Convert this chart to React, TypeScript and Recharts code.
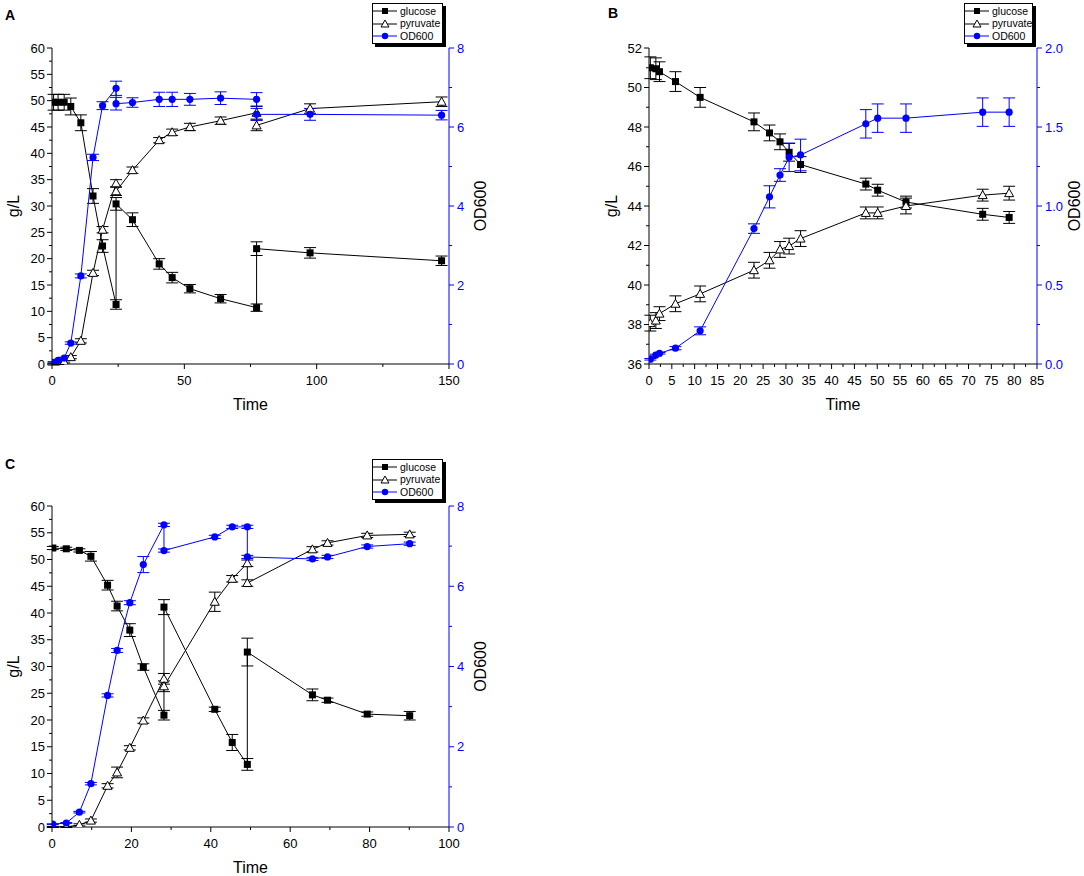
import React from 'react';
import { ComposedChart, Line, XAxis, YAxis, ErrorBar, Legend } from 'recharts';

const FONT = '"Liberation Sans", Arial, sans-serif';
const BLUE = '#0000ff';

// ---------- Panel A ----------
const A_TIME = [0.6, 2.3, 4.6, 7.1, 10.9, 15.5, 19.1, 24.2, 24.2, 30.4, 40.5, 45.4, 52.1, 63.7, 77.3, 77.3, 97.5, 147.2];
const A_GLUCOSE = [49.7, 49.7, 49.7, 48.9, 45.8, 31.9, 22.4, 11.3, 30.4, 27.4, 19.0, 16.4, 14.3, 12.4, 10.7, 21.9, 21.1, 19.6];
const A_GLUCOSE_ERR = [1.5, 1.5, 1.5, 1.6, 1.5, 1.4, 1.2, 0.9, 1.2, 1.3, 1.0, 1.0, 0.8, 0.8, 0.7, 1.3, 1.0, 0.9];
const A_PYRUVATE = [0, 0.1, 0.4, 1.3, 4.4, 17.3, 25.5, 34.3, 32.8, 36.8, 42.5, 44.0, 45.0, 46.2, 47.7, 45.3, 48.5, 49.8];
const A_PYRUVATE_ERR = [0.2, 0.2, 0.2, 0.3, 0.4, 0.5, 0.6, 0.7, 0.8, 0.6, 0.5, 0.6, 0.7, 0.7, 1.2, 1.0, 0.9, 0.9];
const A_OD = [0.04, 0.09, 0.15, 0.53, 2.23, 5.23, 6.54, 6.98, 6.59, 6.62, 6.7, 6.7, 6.7, 6.73, 6.7, 6.32, 6.32, 6.3];
const A_OD_ERR = [0.02, 0.02, 0.02, 0.03, 0.05, 0.08, 0.1, 0.18, 0.16, 0.12, 0.18, 0.18, 0.15, 0.16, 0.17, 0.15, 0.15, 0.12];
const A_X_TICKS = [0, 50, 100, 150];
const A_Y_TICKS = [0, 5, 10, 15, 20, 25, 30, 35, 40, 45, 50, 55, 60];
const A_OD_TICKS = [0, 2, 4, 6, 8];

// ---------- Panel B ----------
const B_TIME = [0.3, 1.5, 2.3, 5.8, 11.2, 23.0, 26.4, 28.7, 30.7, 33.2, 47.5, 50.1, 56.3, 73.1, 78.9];
const B_GLUCOSE = [51.0, 50.95, 50.8, 50.3, 49.5, 48.26, 47.7, 47.25, 46.72, 46.1, 45.11, 44.8, 44.2, 43.58, 43.42];
const B_GLUCOSE_ERR = [0.55, 0.55, 0.5, 0.5, 0.5, 0.45, 0.4, 0.4, 0.45, 0.4, 0.3, 0.3, 0.3, 0.3, 0.3];
const B_PYRUVATE = [38.07, 38.2, 38.55, 39.05, 39.55, 40.75, 41.25, 41.8, 41.97, 42.35, 43.65, 43.65, 44.0, 44.55, 44.65];
const B_PYRUVATE_ERR = [0.4, 0.4, 0.35, 0.4, 0.4, 0.4, 0.4, 0.4, 0.4, 0.4, 0.3, 0.3, 0.4, 0.3, 0.35];
const B_OD = [0.03, 0.057, 0.068, 0.1, 0.21, 0.857, 1.058, 1.196, 1.308, 1.323, 1.52, 1.556, 1.556, 1.594, 1.594];
const B_OD_ERR = [0.005, 0.005, 0.005, 0.01, 0.025, 0.03, 0.07, 0.04, 0.09, 0.1, 0.09, 0.09, 0.09, 0.09, 0.09];
const B_X_TICKS = [0, 5, 10, 15, 20, 25, 30, 35, 40, 45, 50, 55, 60, 65, 70, 75, 80, 85];
const B_Y_TICKS = [36, 38, 40, 42, 44, 46, 48, 50, 52];
const B_OD_TICKS = [0, 0.5, 1.0, 1.5, 2.0];

// ---------- Panel C ----------
const C_TIME = [0.2, 3.6, 6.9, 9.8, 14.0, 16.4, 19.6, 23.0, 28.2, 28.2, 41.0, 45.4, 49.2, 49.2, 65.6, 69.4, 79.4, 90.1];
const C_GLUCOSE = [52.15, 52.0, 51.7, 50.6, 45.2, 41.3, 36.8, 29.9, 20.9, 41.1, 22.0, 15.8, 11.7, 32.7, 24.7, 23.7, 21.1, 20.8];
const C_GLUCOSE_ERR = [0.3, 0.3, 0.3, 0.9, 0.9, 0.9, 1.2, 0.6, 0.9, 1.4, 0.4, 1.5, 1.1, 2.6, 1.1, 0.4, 0.4, 0.8];
const C_PYRUVATE = [0, 0, 0.4, 1.2, 7.7, 10.2, 14.8, 19.9, 27.7, 26.3, 42.1, 46.4, 49.3, 45.6, 51.9, 53.1, 54.5, 54.7];
const C_PYRUVATE_ERR = [0.1, 0.1, 0.2, 0.3, 0.4, 1.0, 0.4, 0.5, 1.0, 1.0, 1.8, 0.6, 0.6, 0.6, 0.5, 0.4, 0.4, 0.4];
const C_OD = [0.07, 0.1, 0.37, 1.08, 3.28, 4.4, 5.59, 6.54, 7.53, 6.89, 7.23, 7.48, 7.48, 6.73, 6.68, 6.73, 6.99, 7.06];
const C_OD_ERR = [0.01, 0.01, 0.02, 0.03, 0.04, 0.05, 0.05, 0.2, 0.04, 0.04, 0.04, 0.04, 0.04, 0.04, 0.04, 0.04, 0.04, 0.04];
const C_X_TICKS = [0, 20, 40, 60, 80, 100];
const C_Y_TICKS = [0, 5, 10, 15, 20, 25, 30, 35, 40, 45, 50, 55, 60];
const C_OD_TICKS = [0, 2, 4, 6, 8];

const LEGEND_NAMES = ['glucose', 'pyruvate', 'OD600'];

// ---------- helpers ----------
const pts = (t: number[], y: number[], e: number[]) => t.map((tt, i) => ({ t: tt, y: y[i], e: e[i] }));

// major ticks plus midpoints (minor ticks)
const withMinor = (ticks: number[]) => {
  const out: number[] = [];
  ticks.forEach((v, i) => {
    out.push(v);
    if (i < ticks.length - 1) out.push((v + ticks[i + 1]) / 2);
  });
  return out;
};

type Side = 'left' | 'right' | 'bottom' | 'top';

const makeTick = (side: Side, majors: number[], color: string, fmt: (v: number) => string, showLabel: boolean) =>
  (props: any) => {
    const { x, y, payload } = props;
    const v = payload.value;
    const major = majors.some((m) => Math.abs(m - v) < 1e-9);
    const len = major ? 5 : 3;
    let line: any = null;
    let label: any = null;
    const tstyle = { fontFamily: FONT, fontSize: 13 };
    if (side === 'left') {
      line = <line x1={x - len} x2={x} y1={y} y2={y} stroke={color} strokeWidth={1} />;
      if (major && showLabel)
        label = <text x={x - 7} y={y} dy="0.36em" textAnchor="end" fill={color} style={tstyle}>{fmt(v)}</text>;
    } else if (side === 'right') {
      line = <line x1={x} x2={x + len} y1={y} y2={y} stroke={color} strokeWidth={1} />;
      if (major && showLabel)
        label = <text x={x + 8} y={y} dy="0.36em" textAnchor="start" fill={color} style={tstyle}>{fmt(v)}</text>;
    } else if (side === 'bottom') {
      line = <line x1={x} x2={x} y1={y} y2={y + len} stroke={color} strokeWidth={1} />;
      if (major && showLabel)
        label = <text x={x} y={y + 16} dy="0.36em" textAnchor="middle" fill={color} style={tstyle}>{fmt(v)}</text>;
    } else {
      line = <line x1={x} x2={x} y1={y} y2={y + len} stroke={color} strokeWidth={1} />;
    }
    return (
      <g>
        {line}
        {label}
      </g>
    );
  };

const vTitle = (text: string, dx: number) => (props: any) => {
  const vb = props.viewBox || { x: 0, y: 0, width: 0, height: 0 };
  const cx = vb.x + dx;
  const cy = vb.y + vb.height / 2;
  return (
    <text x={cx} y={cy} dy="0.36em" transform={`rotate(-90 ${cx} ${cy})`} textAnchor="middle" fill="#000" style={{ fontFamily: FONT, fontSize: 16 }}>
      {text}
    </text>
  );
};

const hTitle = (text: string, dy: number) => (props: any) => {
  const vb = props.viewBox || { x: 0, y: 0, width: 0, height: 0 };
  const cx = vb.x + vb.width / 2;
  const cy = vb.y + dy;
  return (
    <text x={cx} y={cy} dy="0.36em" textAnchor="middle" fill="#000" style={{ fontFamily: FONT, fontSize: 16 }}>
      {text}
    </text>
  );
};

const squareDot = (p: any) =>
  p.cx == null ? <g key={`s${p.index}`} /> : <rect key={`s${p.index}`} x={p.cx - 3.5} y={p.cy - 3.5} width={7} height={7} fill="#000" />;
const triDot = (p: any) =>
  p.cx == null ? <g key={`t${p.index}`} /> : (
    <path key={`t${p.index}`} d={`M${p.cx},${p.cy - 4.5} L${p.cx + 4.5},${p.cy + 3.5} L${p.cx - 4.5},${p.cy + 3.5} Z`} fill="#fff" stroke="#000" strokeWidth={1} />
  );
const circDot = (p: any) =>
  p.cx == null ? <g key={`c${p.index}`} /> : <circle key={`c${p.index}`} cx={p.cx} cy={p.cy} r={3.6} fill={BLUE} />;

const LegendBox = ({ width }: { width: number }) => (
  <div
    style={{
      width,
      boxSizing: 'border-box',
      border: '1px solid #000',
      boxShadow: '3px 3px 0 #000',
      background: '#fff',
      fontFamily: FONT,
      fontSize: 10.5,
      padding: '1px 0',
    }}
  >
    {LEGEND_NAMES.map((n, i) => (
      <div key={n} style={{ display: 'flex', alignItems: 'center', height: 12.4, lineHeight: '12.4px' }}>
        <svg width={24} height={12} style={{ flex: 'none', display: 'block' }}>
          <line x1={0} x2={24} y1={6} y2={6} stroke={i === 2 ? BLUE : '#000'} strokeWidth={1} />
          {i === 0 && <rect x={9} y={3} width={6} height={6} fill="#000" />}
          {i === 1 && <path d="M12,2 L16,9 L8,9 Z" fill="#fff" stroke="#000" strokeWidth={1} />}
          {i === 2 && <circle cx={12} cy={6} r={3.2} fill={BLUE} />}
        </svg>
        <span style={{ marginLeft: 3, color: '#000', whiteSpace: 'nowrap' }}>{n}</span>
      </div>
    ))}
  </div>
);

type PanelProps = {
  w: number;
  h: number;
  left: number;
  right: number;
  top: number;
  bottom: number;
  xTicks: number[];
  yTicks: number[];
  odTicks: number[];
  odFmt: (v: number) => string;
  glucose: any[];
  pyruvate: any[];
  od: any[];
  legendLeft: number;
  legendTop: number;
  legendWidth: number;
  leftTitleDx: number;
  rightTitleDx: number;
};

const intFmt = (v: number) => String(v);

function Panel(p: PanelProps) {
  const xDomain = [p.xTicks[0], p.xTicks[p.xTicks.length - 1]];
  const yDomain = [p.yTicks[0], p.yTicks[p.yTicks.length - 1]];
  const odDomain = [p.odTicks[0], p.odTicks[p.odTicks.length - 1]];
  const xAll = withMinor(p.xTicks);
  return (
    <ComposedChart width={p.w} height={p.h} margin={{ top: p.top, left: 0, right: 0, bottom: 0 }}>
      <XAxis
        xAxisId="x"
        type="number"
        dataKey="t"
        domain={xDomain}
        ticks={xAll}
        interval={0}
        allowDataOverflow
        height={p.bottom}
        tickSize={0}
        tickMargin={0}
        tickLine={false}
        axisLine={{ stroke: '#000', strokeWidth: 1 }}
        tick={makeTick('bottom', p.xTicks, '#000', intFmt, true)}
        label={hTitle('Time', 40)}
      />
      <XAxis
        xAxisId="top"
        orientation="top"
        type="number"
        dataKey="t"
        domain={xDomain}
        ticks={xAll}
        interval={0}
        allowDataOverflow
        height={0}
        tickSize={0}
        tickMargin={0}
        tickLine={false}
        axisLine={{ stroke: BLUE, strokeWidth: 1 }}
        tick={makeTick('top', p.xTicks, BLUE, intFmt, false)}
      />
      <YAxis
        yAxisId="left"
        type="number"
        domain={yDomain}
        ticks={withMinor(p.yTicks)}
        interval={0}
        allowDataOverflow
        width={p.left}
        tickSize={0}
        tickMargin={0}
        tickLine={false}
        axisLine={{ stroke: '#000', strokeWidth: 1 }}
        tick={makeTick('left', p.yTicks, '#000', intFmt, true)}
        label={vTitle('g/L', p.leftTitleDx)}
      />
      <YAxis
        yAxisId="right"
        orientation="right"
        type="number"
        domain={odDomain}
        ticks={withMinor(p.odTicks)}
        interval={0}
        allowDataOverflow
        width={p.right}
        tickSize={0}
        tickMargin={0}
        tickLine={false}
        axisLine={{ stroke: BLUE, strokeWidth: 1 }}
        tick={makeTick('right', p.odTicks, BLUE, p.odFmt, true)}
        label={vTitle('OD600', p.rightTitleDx)}
      />
      <Line
        data={p.glucose}
        dataKey="y"
        name="glucose"
        xAxisId="x"
        yAxisId="left"
        stroke="#000"
        strokeWidth={1}
        dot={squareDot}
        activeDot={false}
        isAnimationActive={false}
      >
        <ErrorBar dataKey="e" direction="y" width={6} stroke="#000" strokeWidth={1} isAnimationActive={false} />
      </Line>
      <Line
        data={p.pyruvate}
        dataKey="y"
        name="pyruvate"
        xAxisId="x"
        yAxisId="left"
        stroke="#000"
        strokeWidth={1}
        dot={triDot}
        activeDot={false}
        isAnimationActive={false}
      >
        <ErrorBar dataKey="e" direction="y" width={6} stroke="#000" strokeWidth={1} isAnimationActive={false} />
      </Line>
      <Line
        data={p.od}
        dataKey="y"
        name="OD600"
        xAxisId="x"
        yAxisId="right"
        stroke={BLUE}
        strokeWidth={1}
        dot={circDot}
        activeDot={false}
        isAnimationActive={false}
      >
        <ErrorBar dataKey="e" direction="y" width={6} stroke={BLUE} strokeWidth={1} isAnimationActive={false} />
      </Line>
      <Legend
        layout="vertical"
        align="center"
        verticalAlign="middle"
        wrapperStyle={{ position: 'absolute', left: p.legendLeft, top: p.legendTop, width: p.legendWidth, height: 'auto' }}
        content={() => <LegendBox width={p.legendWidth} />}
      />
    </ComposedChart>
  );
}

const panelLetter = (text: string, left: number, top: number) => (
  <div style={{ position: 'absolute', left, top, fontFamily: FONT, fontWeight: 'bold', fontSize: 14, lineHeight: '16px', color: '#000' }}>
    {text}
  </div>
);

export default function App() {
  return (
    <div style={{ position: 'absolute', left: 0, top: 0, width: 1084, height: 876, background: '#fff', overflow: 'hidden' }}>
      <div style={{ position: 'absolute', left: 0, top: 0 }}>
        <Panel
          w={540}
          h={420}
          left={52}
          right={91}
          top={48}
          bottom={56}
          xTicks={A_X_TICKS}
          yTicks={A_Y_TICKS}
          odTicks={A_OD_TICKS}
          odFmt={intFmt}
          glucose={pts(A_TIME, A_GLUCOSE, A_GLUCOSE_ERR)}
          pyruvate={pts(A_TIME, A_PYRUVATE, A_PYRUVATE_ERR)}
          od={pts(A_TIME, A_OD, A_OD_ERR)}
          legendLeft={372}
          legendTop={3}
          legendWidth={71}
          leftTitleDx={13.5}
          rightTitleDx={31}
        />
      </div>
      <div style={{ position: 'absolute', left: 540, top: 0 }}>
        <Panel
          w={544}
          h={420}
          left={109}
          right={47}
          top={48}
          bottom={56}
          xTicks={B_X_TICKS}
          yTicks={B_Y_TICKS}
          odTicks={B_OD_TICKS}
          odFmt={(v) => v.toFixed(1)}
          glucose={pts(B_TIME, B_GLUCOSE, B_GLUCOSE_ERR)}
          pyruvate={pts(B_TIME, B_PYRUVATE, B_PYRUVATE_ERR)}
          od={pts(B_TIME, B_OD, B_OD_ERR)}
          legendLeft={424}
          legendTop={3}
          legendWidth={69}
          leftTitleDx={71}
          rightTitleDx={37}
        />
      </div>
      <div style={{ position: 'absolute', left: 0, top: 440 }}>
        <Panel
          w={540}
          h={436}
          left={52}
          right={91}
          top={66}
          bottom={49}
          xTicks={C_X_TICKS}
          yTicks={C_Y_TICKS}
          odTicks={C_OD_TICKS}
          odFmt={intFmt}
          glucose={pts(C_TIME, C_GLUCOSE, C_GLUCOSE_ERR)}
          pyruvate={pts(C_TIME, C_PYRUVATE, C_PYRUVATE_ERR)}
          od={pts(C_TIME, C_OD, C_OD_ERR)}
          legendLeft={372}
          legendTop={19}
          legendWidth={71}
          leftTitleDx={13.5}
          rightTitleDx={31}
        />
      </div>
      {panelLetter('A', 5, 7)}
      {panelLetter('B', 608, 5)}
      {panelLetter('C', 5, 456)}
    </div>
  );
}
